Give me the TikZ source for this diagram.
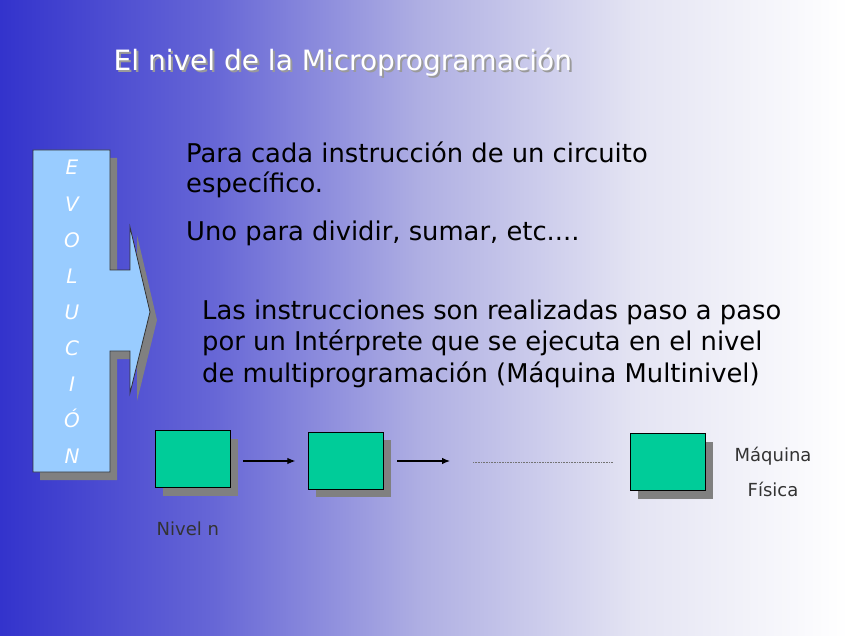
\documentclass[tikz,border=0pt]{standalone}
\usepackage{fontspec}
\setmainfont{DejaVu Sans}
\usetikzlibrary{arrows.meta,calc,positioning,shadows}

\definecolor{bgA}{HTML}{3333CC}
\definecolor{bgB}{HTML}{6666D6}
\definecolor{bgC}{HTML}{B0B0E3}
\definecolor{bgD}{HTML}{E4E4F3}
\definecolor{bgE}{HTML}{FFFFFF}
\definecolor{evofill}{HTML}{99CCFF}
\definecolor{levelfill}{HTML}{00CC99}
\definecolor{shadowgray}{HTML}{808080}
\pgfdeclarehorizontalshading{slidebg}{100bp}{color(0bp)=(bgA); color(25bp)=(bgA); color(37.5bp)=(bgB); color(50bp)=(bgC); color(62.5bp)=(bgD); color(75bp)=(bgE); color(100bp)=(bgE)}

\begin{document}
\begin{tikzpicture}[
  x=1pt, y=-1pt,
  every node/.style={inner sep=0pt},
  txt/.style={anchor=base west, font=\fontsize{25.8}{31}\selectfont, text=black},
  small/.style={font=\fontsize{18}{22}\selectfont, text=black!80},
  evoletter/.style={anchor=base, font=\fontsize{20}{24}\selectfont\itshape, text=white},
  level/.style={
    draw=black,
    line width=0.9pt,
    fill=levelfill,
    minimum width=75pt,
    minimum height=57pt,
    drop shadow={shadow xshift=7pt, shadow yshift=-8pt, fill=shadowgray, opacity=1}
  },
  arrow/.style={-{Latex[length=8pt,width=6.5pt]}, line width=1.1pt, draw=black},
  dots/.style={draw=black!55, line width=0.6pt, dash pattern=on 1pt off 0.6pt}
]
\useasboundingbox (0,0) rectangle (848,636);
\shade[shading=slidebg] (0,0) rectangle (848,636);

% title
\node[anchor=base west, font=\fontsize{28}{32}\selectfont, text=shadowgray!80] at (115.5,72.5) {El nivel de la Microprogramación};
\node[anchor=base west, font=\fontsize{28}{32}\selectfont, text=white] (title) at (113.5,70.5) {El nivel de la Microprogramación};

% evolution arrow
\fill[shadowgray] ($(33,150)+(7,8)$) -- ++(77,0) -- ++(0,120) -- ++(20,0) -- ++(0,-43) -- ++(20,85) -- ++(-20,81) -- ++(0,-42) -- ++(-20,0) -- ++(0,121) -- ++(-77,0) -- cycle;
\draw[fill=evofill, draw=black!80, line width=0.8pt] (33,150) -- (110,150) -- (110,270) -- (130,270) -- (130,227) -- (150,312) -- (130,393) -- (130,351) -- (110,351) -- (110,472) -- (33,472) -- cycle;
\foreach \l [count=\i from 0] in {E,V,O,L,U,C,I,Ó,N}
  \node[evoletter] (evo\i) at (72,175+36.1*\i) {\l};

% text
\node[txt] (para) at (186,163) {Para cada instrucción de un circuito};
\node[txt] (espec) at (186,193) {específico.};
\node[txt] (uno) at (186,241) {Uno para dividir, sumar, etc....};
\node[txt] (las) at (202,319) {Las instrucciones son realizadas paso a paso};
\node[txt] (por) at (202,350.5) {por un Intérprete que se ejecuta en el nivel};
\node[txt] (multi) at (202,382) {de multiprogramación (Máquina Multinivel)};

% levels
\node[level] (lvn) at (193,459) {};
\node[level] (lvb) at (346.3,460.6) {};
\node[level] (lvfis) at (668.2,462.3) {};
\node[small, anchor=base west] (nivel) at (156.5,535) {Nivel n};
\node[small, anchor=base] (maq) at (773,461) {Máquina};
\node[small, anchor=base] (fis) at (773,496) {Física};

\coordinate (a2end) at (450,461);
\coordinate (dotstart) at (473,462);
\draw[arrow, shorten <=12pt, shorten >=13pt] (lvn.east |- a2end) -- (lvb.west |- a2end);
\draw[arrow, shorten <=13pt] (lvb.east |- a2end) -- (a2end);
\draw[dots, shorten >=17pt] (dotstart) -- (lvfis.west |- dotstart);
\end{tikzpicture}
\end{document}
